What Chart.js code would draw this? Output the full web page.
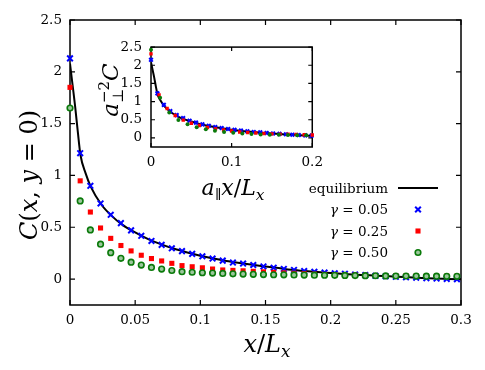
<!DOCTYPE html>
<html>
<head>
<meta charset="utf-8">
<script src="https://cdn.jsdelivr.net/npm/chart.js@4.4.1/dist/chart.umd.min.js"></script>
<style>
  html, body { margin: 0; padding: 0; background: #fff; }
  #wrap { position: relative; width: 485px; height: 370px; }
  #mainChart { position: absolute; left: 0; top: 0; }
  #insetChart { position: absolute; left: 90px; top: 30px; }
</style>
</head>
<body>
<div id="wrap">
  <canvas id="mainChart" width="485" height="370"></canvas>
  <canvas id="insetChart" width="240" height="170"></canvas>
</div>
<script>
/* ==============================
   DATA
================================ */
const stepX = 1 / 128;   // sample spacing in x/Lx
const sampleX = Array.from({ length: 39 }, (_, k) => k * stepX);

const gamma005 = [2.13, 1.215, 0.90, 0.73, 0.62, 0.54, 0.47, 0.418, 0.368, 0.33, 0.297, 0.27, 0.243,
  0.22, 0.198, 0.178, 0.16, 0.15, 0.136, 0.122, 0.11, 0.098, 0.088, 0.078, 0.07, 0.063, 0.056,
  0.05, 0.044, 0.038, 0.032, 0.027, 0.022, 0.017, 0.013, 0.009, 0.005, 0.002, 0.0];
const gamma025 = [1.85, 0.948, 0.647, 0.493, 0.393, 0.324, 0.272, 0.23, 0.198, 0.175, 0.152, 0.13,
  0.119, 0.109, 0.097, 0.088, 0.084, 0.08, 0.075, 0.07, 0.065, 0.06, 0.056, 0.052, 0.048, 0.045,
  0.043, 0.041, 0.039, 0.037, 0.035, 0.034, 0.033, 0.032, 0.031, 0.03, 0.029, 0.029, 0.028];
const gamma050 = [1.65, 0.754, 0.474, 0.337, 0.255, 0.2, 0.163, 0.135, 0.113, 0.097, 0.083, 0.072,
  0.066, 0.061, 0.058, 0.055, 0.051, 0.048, 0.046, 0.044, 0.042, 0.041, 0.04, 0.039, 0.038, 0.037,
  0.036, 0.035, 0.034, 0.033, 0.032, 0.031, 0.03, 0.03, 0.029, 0.028, 0.028, 0.027, 0.027];

const eqX = [0, 0.002, 0.004, 0.006, 0.008, 0.012, 0.016, 0.024, 0.032, 0.04, 0.05, 0.06, 0.07,
  0.08, 0.09, 0.1, 0.11, 0.12, 0.13, 0.14, 0.15, 0.16, 0.17, 0.18, 0.19, 0.2, 0.21, 0.22, 0.23,
  0.24, 0.25, 0.26, 0.27, 0.28, 0.29, 0.3];
const eqY = [2.08, 1.87, 1.66, 1.42, 1.2, 1.02, 0.89, 0.72, 0.61, 0.525, 0.45, 0.385, 0.335,
  0.292, 0.257, 0.226, 0.198, 0.174, 0.155, 0.138, 0.122, 0.106, 0.09, 0.078, 0.068, 0.059,
  0.05, 0.043, 0.036, 0.03, 0.023, 0.017, 0.011, 0.006, 0.002, -0.002];

// inset rescaling factors a_par and a_perp^-2, per gamma
const insetScaleX = [1.02, 1.28, 1.45];
const insetScaleY = [1.01, 1.25, 1.47];

const gammaValues = ["0.05", "0.25", "0.50"];
const seriesColors = ["#0000ff", "#ff0000", "#0a7a0a"];

const mainXTicks = [0, 0.05, 0.1, 0.15, 0.2, 0.25, 0.3];
const mainYTicks = [0, 0.5, 1, 1.5, 2, 2.5];
const insetXTicks = [0, 0.1, 0.2];
const insetYTicks = [0, 0.5, 1, 1.5, 2, 2.5];

/* ==============================
   HELPERS
================================ */
const FAMILY = "'DejaVu Serif', 'DejaVu Sans', serif";
Chart.defaults.font.family = FAMILY;
Chart.defaults.font.size = 13.5;
Chart.defaults.color = "#000";

function pts(xs, ys) {
    return xs.map((x, i) => ({ x: x, y: ys[i] }));
}

function fontOf(p, size) {
    return (p.it ? "italic " : "") + (size * (p.s || 1)).toFixed(1) + "px " + FAMILY;
}

// draw text made of pieces (italic, sub/superscripts)
function drawRich(ctx, parts, x, y, size, align, rotate) {
    ctx.save();
    let w = 0;
    parts.forEach(p => {
        ctx.font = fontOf(p, size);
        p.w = ctx.measureText(p.t).width;
        if (p.adv !== false) w += p.w;
    });
    ctx.translate(x, y);
    if (rotate) ctx.rotate(-Math.PI / 2);
    let cx = align === "right" ? -w : -w / 2;
    ctx.fillStyle = "#000";
    ctx.textBaseline = "alphabetic";
    ctx.textAlign = "left";
    parts.forEach(p => {
        ctx.font = fontOf(p, size);
        ctx.fillText(p.t, cx, size * 0.36 + (p.dy || 0));
        if (p.adv !== false) cx += p.w;
    });
    ctx.restore();
}

function frameTicks(chart, len, xTicks, yTicks) {
    const { ctx, chartArea: a, scales: { x, y } } = chart;
    ctx.save();
    ctx.strokeStyle = "#000";
    ctx.lineWidth = 1.5;
    ctx.strokeRect(a.left, a.top, a.right - a.left, a.bottom - a.top);
    ctx.lineWidth = 1.2;
    ctx.beginPath();
    xTicks.forEach(v => {
        const px = x.getPixelForValue(v);
        ctx.moveTo(px, a.bottom); ctx.lineTo(px, a.bottom - len);
        ctx.moveTo(px, a.top); ctx.lineTo(px, a.top + len);
    });
    yTicks.forEach(v => {
        const py = y.getPixelForValue(v);
        ctx.moveTo(a.left, py); ctx.lineTo(a.left + len, py);
        ctx.moveTo(a.right, py); ctx.lineTo(a.right - len, py);
    });
    ctx.stroke();
    ctx.restore();
}

function marker(ctx, style, radius, bw, color, fill, x, y) {
    ctx.save();
    ctx.strokeStyle = color;
    ctx.fillStyle = fill;
    ctx.lineWidth = bw;
    Chart.helpers.drawPoint(ctx, { pointStyle: style, radius: radius, borderWidth: bw, rotation: 0 }, x, y);
    ctx.restore();
}

/* ==============================
   MAIN CHART
================================ */
const mainStyles = [
    { pointStyle: "crossRot", pointRadius: 4, pointBorderWidth: 2, fill: "#0000ff" },
    { pointStyle: "rect", pointRadius: 3.6, pointBorderWidth: 0, fill: "#ff0000" },
    { pointStyle: "circle", pointRadius: 2.8, pointBorderWidth: 1.6, fill: "#9cc79c" }
];
const gammaSeries = [gamma005, gamma025, gamma050];

const mainDecor = {
    id: "mainDecor",
    beforeDatasetsDraw(chart) {
        frameTicks(chart, 5, mainXTicks, mainYTicks);
    },
    afterDraw(chart) {
        const ctx = chart.ctx;
        drawRich(ctx, [
            { t: "C", it: true }, { t: "(" }, { t: "x", it: true }, { t: ", " },
            { t: "y", it: true }, { t: " = 0)" }
        ], 28, 175, 24, "center", true);
        drawRich(ctx, [
            { t: "x", it: true }, { t: "/" }, { t: "L", it: true },
            { t: "x", it: true, s: 0.7, dy: 5 }
        ], 267, 343, 24, "center", false);

        // legend
        const textRight = 388, markX = 418, top = 188, gap = 21.5;
        drawRich(ctx, [{ t: "equilibrium" }], textRight, top, 13.5, "right", false);
        ctx.save();
        ctx.strokeStyle = "#000";
        ctx.lineWidth = 2;
        ctx.beginPath();
        ctx.moveTo(398, top); ctx.lineTo(438, top);
        ctx.stroke();
        ctx.restore();
        gammaValues.forEach((g, i) => {
            const yy = top + gap * (i + 1);
            drawRich(ctx, [{ t: "γ", it: true }, { t: " = " + g }], textRight, yy, 13.5, "right", false);
            const st = mainStyles[i];
            marker(ctx, st.pointStyle, st.pointRadius, st.pointBorderWidth, seriesColors[i], st.fill, markX, yy);
        });
    }
};

new Chart(document.getElementById("mainChart"), {
    type: "scatter",
    data: {
        datasets: [
            {
                label: "equilibrium",
                data: pts(eqX, eqY),
                showLine: true,
                borderColor: "#000",
                borderWidth: 2,
                pointRadius: 0,
                cubicInterpolationMode: "monotone",
                order: 4
            }
        ].concat(gammaSeries.map((vals, i) => ({
            label: "γ = " + gammaValues[i],
            data: pts(sampleX, vals),
            pointStyle: mainStyles[i].pointStyle,
            pointRadius: mainStyles[i].pointRadius,
            pointBorderWidth: mainStyles[i].pointBorderWidth,
            borderColor: seriesColors[i],
            backgroundColor: mainStyles[i].fill,
            clip: false,
            order: 3 - i
        })))
    },
    options: {
        responsive: false,
        animation: false,
        layout: { padding: { top: 20, right: 24, left: 0, bottom: 0 } },
        plugins: { legend: { display: false }, tooltip: { enabled: false } },
        scales: {
            x: {
                type: "linear", min: 0, max: 0.3,
                afterBuildTicks: s => { s.ticks = mainXTicks.map(v => ({ value: v })); },
                afterFit: s => { s.height = 65; },
                ticks: { padding: 7, maxRotation: 0, autoSkip: false, callback: v => String(v) },
                grid: { display: false, drawTicks: false },
                border: { display: false }
            },
            y: {
                type: "linear", min: -0.25, max: 2.5,
                afterBuildTicks: s => { s.ticks = mainYTicks.map(v => ({ value: v })); },
                afterFit: s => { s.width = 70; },
                ticks: { padding: 8, callback: v => String(v) },
                grid: { display: false, drawTicks: false },
                border: { display: false }
            }
        }
    },
    plugins: [mainDecor]
});

/* ==============================
   INSET
================================ */
const insetStyles = [
    { pointStyle: "crossRot", pointRadius: 2.6, pointBorderWidth: 2, fill: "#0000ff" },
    { pointStyle: "rect", pointRadius: 2.4, pointBorderWidth: 0, fill: "#ff0000" },
    { pointStyle: "circle", pointRadius: 2, pointBorderWidth: 0, fill: "#0a7a0a" }
];

const insetDecor = {
    id: "insetDecor",
    beforeDatasetsDraw(chart) {
        frameTicks(chart, 4, insetXTicks, insetYTicks);
    },
    afterDraw(chart) {
        const ctx = chart.ctx;
        drawRich(ctx, [
            { t: "a", it: true }, { t: "⊥", s: 0.65, dy: 5, adv: false },
            { t: "−2", s: 0.65, dy: -9 }, { t: "C", it: true }
        ], 20, 60, 23, "center", true);
        drawRich(ctx, [
            { t: "a", it: true }, { t: "∥", s: 0.65, dy: 5 }, { t: "x", it: true },
            { t: "/" }, { t: "L", it: true }, { t: "x", it: true, s: 0.7, dy: 5 }
        ], 143, 157, 22, "center", false);
    }
};

new Chart(document.getElementById("insetChart"), {
    type: "scatter",
    data: {
        datasets: [
            {
                data: pts(eqX, eqY),
                showLine: true,
                borderColor: "#000",
                borderWidth: 2,
                pointRadius: 0,
                cubicInterpolationMode: "monotone",
                order: 4
            }
        ].concat(gammaSeries.map((vals, i) => ({
            data: sampleX.map((x, k) => ({ x: x * insetScaleX[i], y: vals[k] * insetScaleY[i] }))
                .filter(p => p.x <= 0.201),
            pointStyle: insetStyles[i].pointStyle,
            pointRadius: insetStyles[i].pointRadius,
            pointBorderWidth: insetStyles[i].pointBorderWidth,
            borderColor: seriesColors[i],
            backgroundColor: insetStyles[i].fill,
            clip: 3,
            order: 3 - i
        })))
    },
    options: {
        responsive: false,
        animation: false,
        layout: { padding: { top: 9, right: 14, left: 0, bottom: 0 } },
        plugins: { legend: { display: false }, tooltip: { enabled: false } },
        scales: {
            x: {
                type: "linear", min: 0, max: 0.2,
                afterBuildTicks: s => { s.ticks = insetXTicks.map(v => ({ value: v })); },
                afterFit: s => { s.height = 53; },
                ticks: { padding: 7, maxRotation: 0, autoSkip: false, callback: v => String(v) },
                grid: { display: false, drawTicks: false },
                border: { display: false }
            },
            y: {
                type: "linear", min: -0.25, max: 2.5,
                afterBuildTicks: s => { s.ticks = insetYTicks.map(v => ({ value: v })); },
                afterFit: s => { s.width = 61; },
                ticks: { padding: 9, callback: v => String(v) },
                grid: { display: false, drawTicks: false },
                border: { display: false }
            }
        }
    },
    plugins: [insetDecor]
});
</script>
</body>
</html>
